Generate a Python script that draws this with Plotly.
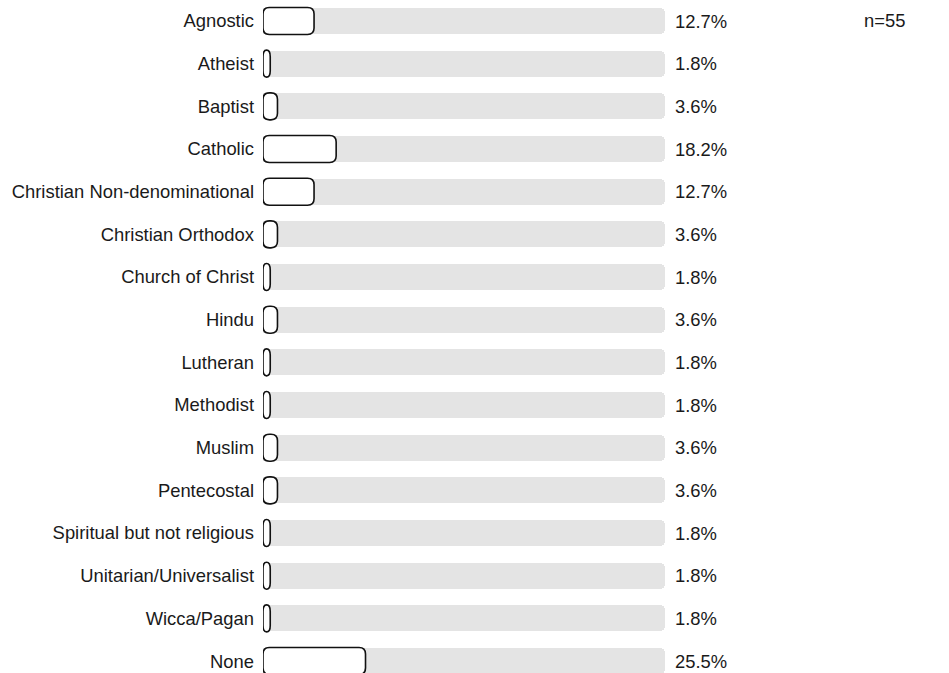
import plotly.graph_objects as go

# Survey: religious affiliation (share of respondents, %)
categories = [
    "Agnostic", "Atheist", "Baptist", "Catholic", "Christian Non-denominational",
    "Christian Orthodox", "Church of Christ", "Hindu", "Lutheran", "Methodist",
    "Muslim", "Pentecostal", "Spiritual but not religious", "Unitarian/Universalist",
    "Wicca/Pagan", "None",
]
shares = [12.7, 1.8, 3.6, 18.2, 12.7, 3.6, 1.8, 3.6, 1.8, 1.8, 3.6, 3.6, 1.8, 1.8, 1.8, 25.5]
share_labels = ["%.1f%%" % v for v in shares]
sample_size = 55

W, H = 949, 673
M_L, M_R = 263, 284
PLOT_W = W - M_L - M_R
ROW_PX = 42.67
FIRST_ROW_PX = 21.0
Y_TOP = -FIRST_ROW_PX / ROW_PX
Y_BOTTOM = (H - FIRST_ROW_PX) / ROW_PX

FONT = "Liberation Sans, Arial, sans-serif"
FONT_SIZE = 18.4
TEXT_COLOR = "#1a1a1a"
TRACK_COLOR = "#e4e4e4"
OUTLINE = "#111111"

ypos = list(range(len(categories)))

fig = go.Figure()

# grey 0-100% track behind every row
fig.add_trace(go.Bar(
    y=ypos, x=[100] * len(categories), orientation="h",
    marker=dict(color=TRACK_COLOR, line=dict(width=0), cornerradius=5),
    width=26 / ROW_PX, hoverinfo="skip", showlegend=False,
))


def rounded_bar_path(value, yc, h_units, r_px=6.5):
    """Rounded rectangle from 0 to value, in data units."""
    px_per_x = PLOT_W / 100.0
    rx = min(r_px / px_per_x, value / 2.0)
    ry = min(r_px / ROW_PX, h_units / 2.0)
    x0, x1 = 0.0, value
    y0, y1 = yc - h_units / 2.0, yc + h_units / 2.0
    return (
        f"M {x0 + rx},{y0} L {x1 - rx},{y0} Q {x1},{y0} {x1},{y0 + ry} "
        f"L {x1},{y1 - ry} Q {x1},{y1} {x1 - rx},{y1} "
        f"L {x0 + rx},{y1} Q {x0},{y1} {x0},{y1 - ry} "
        f"L {x0},{y0 + ry} Q {x0},{y0} {x0 + rx},{y0} Z"
    )


shapes = []
for i, v in enumerate(shares):
    shapes.append(dict(
        type="path", xref="x", yref="y", layer="above",
        path=rounded_bar_path(v, ypos[i], 27 / ROW_PX),
        fillcolor="white", line=dict(color=OUTLINE, width=1.6),
    ))

annotations = []
for i, lab in enumerate(share_labels):
    annotations.append(dict(
        x=100, y=ypos[i], xref="x", yref="y", text=lab, showarrow=False,
        xanchor="left", yanchor="middle", xshift=8,
        font=dict(family=FONT, size=FONT_SIZE, color=TEXT_COLOR),
    ))
# sample size note, top right
annotations.append(dict(
    x=(907 - M_L) / PLOT_W, y=(H - 20) / H, xref="paper", yref="paper",
    text="n=%d" % sample_size, showarrow=False, xanchor="right", yanchor="middle",
    font=dict(family=FONT, size=FONT_SIZE, color=TEXT_COLOR),
))

fig.update_layout(
    width=W, height=H,
    margin=dict(l=M_L, r=M_R, t=0, b=0, pad=0),
    paper_bgcolor="white", plot_bgcolor="white",
    shapes=shapes, annotations=annotations,
    xaxis=dict(range=[0, 100], visible=False, fixedrange=True),
    yaxis=dict(
        range=[Y_BOTTOM, Y_TOP], tickmode="array", tickvals=ypos, ticktext=categories,
        showgrid=False, zeroline=False, showline=False, ticks="", ticklabelstandoff=8,
        tickfont=dict(family=FONT, size=FONT_SIZE, color=TEXT_COLOR), fixedrange=True,
    ),
    bargap=0, showlegend=False,
)

fig.write_html("out.html", config={"displayModeBar": False})
